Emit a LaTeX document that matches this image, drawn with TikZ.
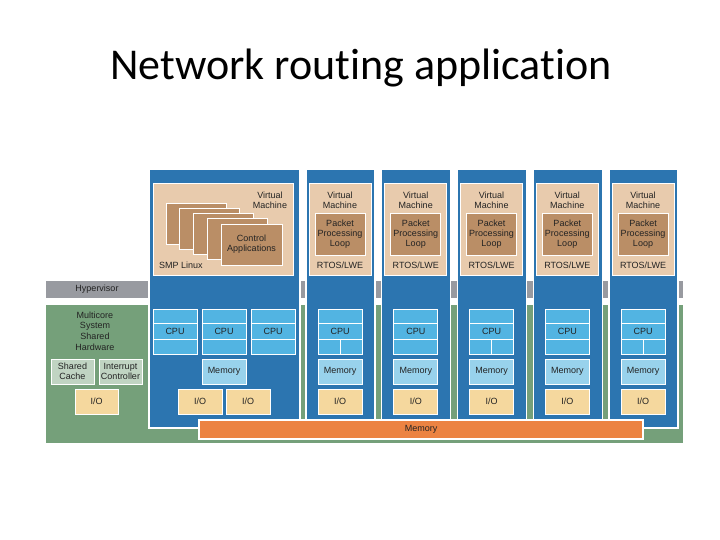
\documentclass[tikz,border=0pt]{standalone}
\usepackage{fontspec}
\setmainfont{Carlito}[Ligatures={NoCommon}]
\newfontfamily\dfont{Liberation Sans}
\usetikzlibrary{calc}
\definecolor{vmblue}{RGB}{44,117,176}
\definecolor{vmtan}{RGB}{232,203,173}
\definecolor{darktan}{RGB}{186,142,102}
\definecolor{hwgreen}{RGB}{117,160,122}
\definecolor{hvgray}{RGB}{152,154,160}
\definecolor{cpublue}{RGB}{82,180,226}
\definecolor{memblue}{RGB}{152,210,236}
\definecolor{iotan}{RGB}{245,216,158}
\definecolor{memorange}{RGB}{236,131,66}
\definecolor{cachegray}{RGB}{192,212,194}
\definecolor{txt}{RGB}{35,35,35}
\newcommand\rbox[7]{\node[box,#2,minimum width={(#5)-(#3)},minimum height={(#6)-(#4)}] (#1) at ({((#3)+(#5))/2},{((#4)+(#6))/2}) {#7};}
\begin{document}
\begin{tikzpicture}[x=1pt,y=-1pt,
  box/.style={draw=white, line width=0.8pt, inner sep=0pt, align=center, text=txt,
    font=\dfont\fontsize{9}{10}\selectfont},
  lbl/.style={inner sep=0pt, align=center, text=txt, font=\dfont\fontsize{9}{10}\selectfont},
  blk/.style={fill=vmblue, line width=1.2pt},
  vm/.style={fill=vmtan},
  app/.style={fill=darktan},
  cpu/.style={fill=cpublue},
  mem/.style={fill=memblue},
  io/.style={fill=iotan},
  hw/.style={fill=hwgreen, draw=none},
  hv/.style={fill=hvgray, draw=none},
  cache/.style={fill=cachegray},
  bus/.style={fill=memorange, line width=1.2pt},
  sep/.style={draw=white, line width=0.8pt}]
\useasboundingbox (0,0) rectangle (720,540);

\node[font=\fontsize{44}{52}\selectfont, anchor=base, inner sep=0pt] (title) at (361,80) {Network routing application};

% shared hardware and hypervisor
\rbox{hw}{hw}{46}{305}{683}{443}{}
\rbox{hv}{hv}{46}{281}{683}{298}{}
\node[lbl] (hvt) at (97,289.5) {Hypervisor};
\node[lbl, font=\dfont\fontsize{9}{10.7}\selectfont] (hwt) at (95,331) {Multicore\\System\\Shared\\Hardware};
\rbox{cache}{cache}{51}{359}{94}{384}{Shared\\Cache}
\rbox{intc}{cache}{99}{359}{142}{384}{Interrupt\\Controller}
\rbox{hwio}{io}{75}{389}{118}{414}{I/O}

% big SMP block
\rbox{col}{blk}{149}{169}{300}{428}{}
\rbox{vm}{vm}{153}{183}{293}{275}{}
\foreach \k in {0,...,3}{
  \pgfmathsetmacro\ax{166+13.7*\k}
  \pgfmathsetmacro\ay{203+5.2*\k}
  \rbox{stack\k}{app}{\ax}{\ay}{\ax+60}{\ay+41}{}
}
\rbox{ctrl}{app}{221}{224}{282}{265}{Control\\Applications}
\node[lbl] (vmt) at (270,200) {Virtual\\Machine};
\node[lbl, anchor=west] (smp) at (159,265) {SMP Linux};
\foreach \c/\x in {a/153,b/202,c/251}{
  \rbox{cpu\c}{cpu}{\x}{309}{\x+44}{354}{CPU}
  \draw[sep] ($(cpu\c.north west)!1/3!(cpu\c.south west)$) -- ($(cpu\c.north east)!1/3!(cpu\c.south east)$);
  \draw[sep] ($(cpu\c.north west)!2/3!(cpu\c.south west)$) -- ($(cpu\c.north east)!2/3!(cpu\c.south east)$);
}
\rbox{mem}{mem}{202}{359}{246}{384}{Memory}
\rbox{ioa}{io}{178}{389}{222}{414}{I/O}
\rbox{iob}{io}{226}{389}{270}{414}{I/O}

% RTOS columns
\foreach \i in {0,...,4}{
  \pgfmathsetmacro\L{306+75.75*\i}
  \rbox{col\i}{blk}{\L}{169}{\L+69}{428}{}
  \rbox{vm\i}{vm}{\L+3}{183}{\L+65}{275}{}
  \node[lbl] (vmt\i) at (\L+34,200) {Virtual\\Machine};
  \rbox{pkt\i}{app}{\L+9}{213}{\L+59}{255}{Packet\\Processing\\Loop}
  \node[lbl] (rtos\i) at (\L+34,265) {RTOS/LWE};
  \rbox{cpu\i}{cpu}{\L+12}{309}{\L+56}{354}{CPU}
  \draw[sep] ($(cpu\i.north west)!1/3!(cpu\i.south west)$) -- ($(cpu\i.north east)!1/3!(cpu\i.south east)$);
  \draw[sep] ($(cpu\i.north west)!2/3!(cpu\i.south west)$) -- ($(cpu\i.north east)!2/3!(cpu\i.south east)$);
  \rbox{mem\i}{mem}{\L+12}{359}{\L+56}{384}{Memory}
  \rbox{io\i}{io}{\L+12}{389}{\L+56}{414}{I/O}
}
\foreach \i in {0,2,4}{
  \draw[sep] (cpu\i.south) -- ($(cpu\i.north)!2/3!(cpu\i.south)$);
}

% shared memory bus
\rbox{bus}{bus}{199}{420}{643}{439}{Memory}
\end{tikzpicture}
\end{document}
